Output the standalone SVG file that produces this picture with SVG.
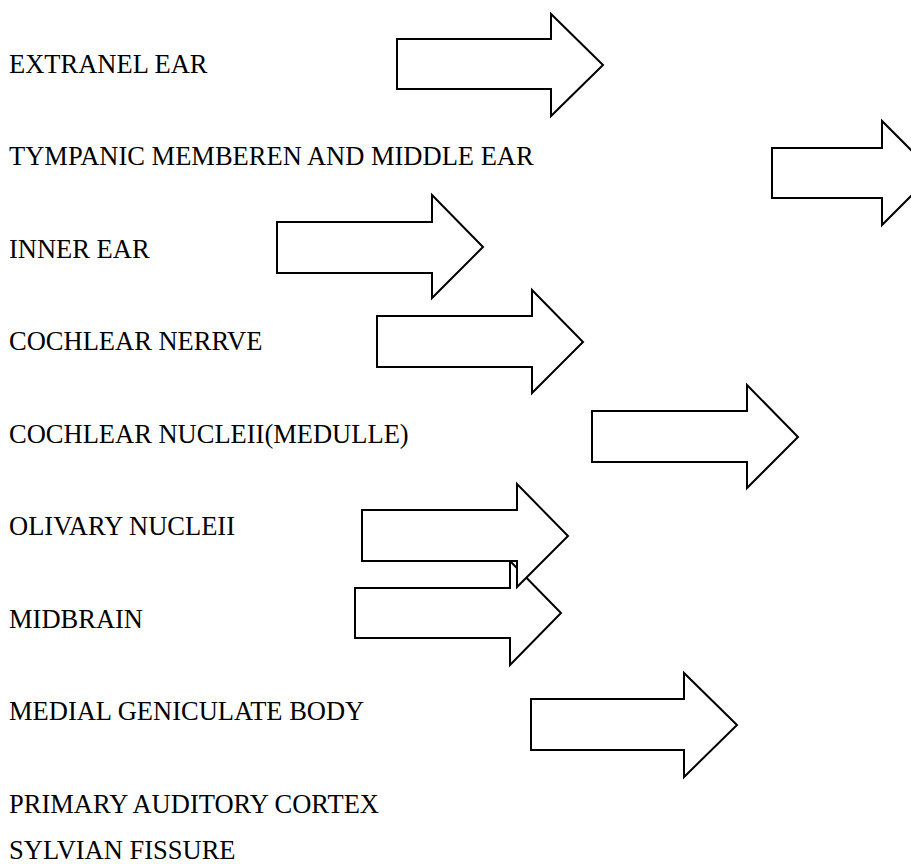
<svg xmlns="http://www.w3.org/2000/svg" width="911" height="864" viewBox="0 0 911 864">
<style>
.t{font-family:"Liberation Serif","Times New Roman",serif;font-size:26.5px;fill:#000}
.a{fill:#fff;stroke:#000;stroke-width:2;stroke-linejoin:miter}
</style>
<rect width="911" height="864" fill="#fff"/>
<g id="n1"><text class="t" x="9" y="73">EXTRANEL EAR</text></g>
<g id="n2"><text class="t" x="9" y="165">TYMPANIC MEMBEREN AND MIDDLE EAR</text></g>
<g id="n3"><text class="t" x="9" y="258">INNER EAR</text></g>
<g id="n4"><text class="t" x="9" y="350">COCHLEAR NERRVE</text></g>
<g id="n5"><text class="t" x="9" y="443">COCHLEAR NUCLEII(MEDULLE)</text></g>
<g id="n6"><text class="t" x="9" y="535">OLIVARY NUCLEII</text></g>
<g id="n7"><text class="t" x="9" y="628">MIDBRAIN</text></g>
<g id="n8"><text class="t" x="9" y="720">MEDIAL GENICULATE BODY</text></g>
<g id="n9"><text class="t" x="9" y="813">PRIMARY AUDITORY CORTEX</text></g>
<g id="n10"><text class="t" x="9" y="859">SYLVIAN FISSURE</text></g>
<g id="connectors">
<polygon class="a" points="397,39 551,39 551,14 603,65 551,116 551,89 397,89"/>
<polygon class="a" points="772,148 882,148 882,121 934,173 882,225 882,198 772,198"/>
<polygon class="a" points="277,222 432,222 432,195 483,247 432,298 432,273 277,273"/>
<polygon class="a" points="377,316 532,316 532,290 583,342 532,393 532,367 377,367"/>
<polygon class="a" points="592,411 747,411 747,385 798,437 747,488 747,462 592,462"/>
<polygon class="a" points="355,588 510,588 510,561 561,613 510,665 510,638 355,638"/>
<polygon class="a" points="362,510 517,510 517,484 568,536 517,587 517,561 362,561"/>
<polygon class="a" points="531,699 684,699 684,673 737,725 684,777 684,750 531,750"/>
</g>
</svg>
